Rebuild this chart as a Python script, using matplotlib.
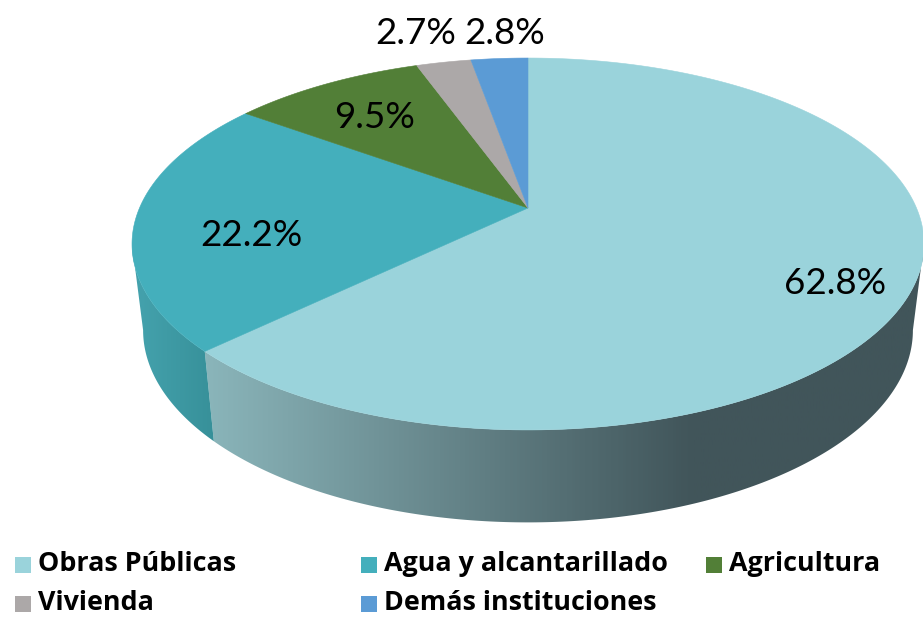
import numpy as np
import matplotlib
matplotlib.use('Agg')
import matplotlib.pyplot as plt
from matplotlib.colors import LinearSegmentedColormap
from matplotlib.patches import Polygon, Rectangle

categories = ['Obras Públicas', 'Agua y alcantarillado', 'Agricultura', 'Vivienda', 'Demás instituciones']
values = [62.8, 22.2, 9.5, 2.7, 2.8]
labels = ['62.8%', '22.2%', '9.5%', '2.7%', '2.8%']
colors = ['#9AD3DB', '#44AFBC', '#527F37', '#ACA8A8', '#5B9BD5']

# perspective of the tilted disc, in pixels
cx, cy = 528, 208
ax_w, ax_h, k = 388.5, 179, 0.1935
scale_low, low_y, low_h = 0.972, 293, 185


def top(t):
    # t = clockwise angle from 12 o'clock
    u, v = np.sin(t), np.cos(t)
    return np.c_[cx + ax_w * u / (1 + k * v), cy - ax_h * v / (1 + k * v)]


def low(t):
    u, v = np.sin(t), np.cos(t)
    return np.c_[cx + scale_low * ax_w * u / (1 + k * v), low_y - low_h * v / (1 + k * v)]


fig = plt.figure(figsize=(9.23, 6.17), dpi=100)
ax = fig.add_axes([0, 0, 1, 1])
ax.axis('off')

edges = np.radians(np.r_[0, np.cumsum(values)] * 3.6)
horizon = np.arccos(-k)  # angle where the disc edge turns away

# walls, gradient clipped to the wall shape
t1 = np.linspace(horizon, edges[1], 200)
wall1 = Polygon(np.r_[top(t1), low(t1[::-1])], closed=True, fc='none', ec='none')
ax.add_patch(wall1)
grad = LinearSegmentedColormap.from_list('wall', [(0, '#8AB5BA'), (0.68, '#41555A'), (1, '#41555A')])
im = ax.imshow(np.linspace(0, 1, 400)[None, :], extent=(205, 923, 617, 0), aspect='auto', cmap=grad, vmin=0, vmax=1)
im.set_clip_path(wall1)

t2 = np.linspace(edges[1], 2 * np.pi - horizon, 80)
wall2 = Polygon(np.r_[top(t2), low(t2[::-1])], closed=True, fc='none', ec='none')
ax.add_patch(wall2)
grad2 = LinearSegmentedColormap.from_list('wall2', ['#45A3AE', '#379099'])
im2 = ax.imshow(np.linspace(0, 1, 100)[None, :], extent=(131, 216, 617, 0), aspect='auto', cmap=grad2, vmin=0, vmax=1)
im2.set_clip_path(wall2)

ax.set_xlim(0, 923)
ax.set_ylim(617, 0)

# top faces
for i in range(len(values)):
    t = np.linspace(edges[i], edges[i + 1], 200)
    ax.add_patch(Polygon(np.r_[[[cx, cy]], top(t)], closed=True, fc=colors[i], ec=colors[i], lw=0.4))

# value labels
label_xy = [(835, 284), (251, 236), (375, 117), (416, 33), (505, 33)]
for s, (x, y) in zip(labels, label_xy):
    ax.text(x, y, s, fontsize=26.5, family='Lato', color='black', ha='center', va='center')

# legend
legend_xy = [(15, 565), (361, 565), (706, 565), (15, 604), (361, 604)]
for c, name, (x, y) in zip(colors, categories, legend_xy):
    ax.add_patch(Rectangle((x, y - 8), 16, 16, fc=c, ec='none'))
    ax.text(x + 23, y + 6, name, fontsize=19.4, family='Open Sans', weight='bold', color='black', ha='left', va='baseline')

fig.savefig('out.png', dpi=100)
